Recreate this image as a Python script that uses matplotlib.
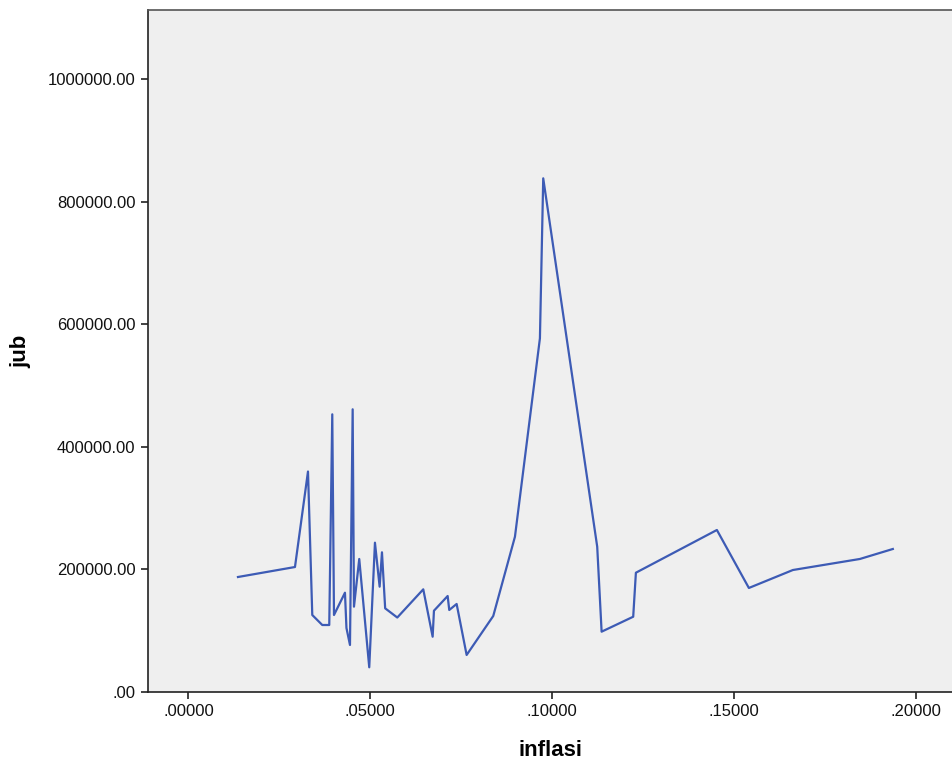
import matplotlib
matplotlib.use("Agg")
import matplotlib.pyplot as plt
from matplotlib.ticker import FuncFormatter

inflasi = [0.01361, 0.02929, 0.03287, 0.03405, 0.0368, 0.03872, 0.03955, 0.04002,
           0.04304, 0.04345, 0.04442, 0.04516, 0.04552, 0.04697, 0.04972, 0.05129,
           0.05258, 0.05322, 0.0541, 0.05743, 0.06458, 0.06716, 0.06752, 0.07129,
           0.07173, 0.07376, 0.07651, 0.08383, 0.0898, 0.09667, 0.09758, 0.11243,
           0.11364, 0.12233, 0.12307, 0.14535, 0.15415, 0.16625, 0.18468, 0.19375]
jub = [187600, 203900, 359700, 125600, 109300, 109300, 453000, 125600,
       162000, 104400, 76700, 461200, 139200, 217000, 40300, 243600,
       171800, 227900, 136500, 121500, 167500, 90200, 132600, 156600,
       133800, 143600, 60400, 124000, 253300, 577000, 838000, 237000,
       98400, 122800, 194600, 264300, 169700, 199000, 217000, 233300]

x_ticks = [0.0, 0.05, 0.10, 0.15, 0.20]
y_ticks = [0, 200000, 400000, 600000, 800000, 1000000]

plt.rcParams['font.family'] = ['Liberation Sans', 'DejaVu Sans']

fig = plt.figure(figsize=(9.53, 7.65), dpi=100)
ax = fig.add_axes([148/953, 73/765, (953-148)/953, (692-10)/765])
ax.set_facecolor('#efefef')
ax.plot(inflasi, jub, color='#3d5bb5', linewidth=1.6)

ax.set_xlim(-0.01114, 0.2103)
ax.set_ylim(0, 1112600)
ax.set_xticks(x_ticks)
ax.set_yticks(y_ticks)

def fx(v, pos):
    s = f"{v:.5f}"
    return s[1:] if s.startswith("0") else s

def fy(v, pos):
    s = f"{v:.2f}"
    return s[1:] if s.startswith("0") else s

ax.xaxis.set_major_formatter(FuncFormatter(fx))
ax.yaxis.set_major_formatter(FuncFormatter(fy))
ax.tick_params(axis='both', direction='out', length=5, width=1.2, color='#222222',
               labelsize=12, labelcolor='#111111', pad=4)
for side in ['left', 'bottom', 'top']:
    ax.spines[side].set_color('#222222')
    ax.spines[side].set_linewidth(1.2)
ax.spines['top'].set_color('#555555')
ax.spines['right'].set_visible(False)

ax.set_xlabel('inflasi', fontsize=16, fontweight='bold', labelpad=15)
ax.set_ylabel('jub', fontsize=16, fontweight='bold', labelpad=12)

fig.savefig('out.png', dpi=100)
